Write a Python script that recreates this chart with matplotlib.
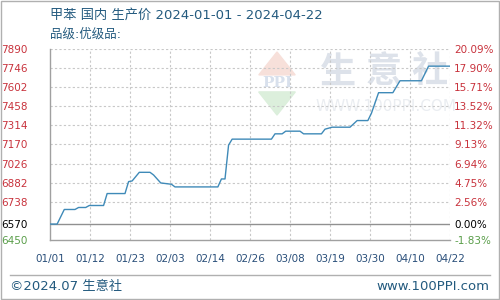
import matplotlib
matplotlib.use("Agg")
import matplotlib.pyplot as plt
import numpy as np
import pandas as pd

# price readings (date, yuan/ton)
dates = ['2024-01-01', '2024-01-03', '2024-01-05', '2024-01-08', '2024-01-09', '2024-01-11',
         '2024-01-12', '2024-01-16', '2024-01-17', '2024-01-22', '2024-01-23', '2024-01-24',
         '2024-01-26', '2024-01-29', '2024-01-30', '2024-02-01', '2024-02-04', '2024-02-05',
         '2024-02-17', '2024-02-18', '2024-02-19', '2024-02-20', '2024-02-21', '2024-03-03',
         '2024-03-04', '2024-03-06', '2024-03-07', '2024-03-11', '2024-03-12', '2024-03-17',
         '2024-03-18', '2024-03-20', '2024-03-25', '2024-03-27', '2024-03-30', '2024-03-31',
         '2024-04-02', '2024-04-06', '2024-04-08', '2024-04-14', '2024-04-16', '2024-04-22']
prices = [6570, 6570, 6680, 6680, 6695, 6695,
          6710, 6710, 6800, 6800, 6890, 6895,
          6960, 6960, 6940, 6880, 6870, 6850,
          6850, 6910, 6910, 7165, 7210, 7210,
          7250, 7250, 7270, 7270, 7250, 7250,
          7285, 7300, 7300, 7350, 7350, 7405,
          7560, 7560, 7650, 7650, 7760, 7760]

base = 6570
y_ticks = [6450, 6570, 6738, 6882, 7026, 7170, 7314, 7458, 7602, 7746, 7890]
pct_labels = ['-1.83%', '0.00%', '2.56%', '4.75%', '6.94%', '9.13%', '11.32%',
              '13.52%', '15.71%', '17.90%', '20.09%']
x_labels = ['01/01', '01/12', '01/23', '02/03', '02/14', '02/26', '03/08',
            '03/19', '03/30', '04/10', '04/22']

start = pd.Timestamp('2024-01-01')
end = pd.Timestamp('2024-04-22')
days = [(pd.Timestamp(d) - start).days for d in dates]
span = (end - start).days

fig = plt.figure(figsize=(5, 3), dpi=100)
ax = fig.add_axes([0.1, 0.2, 0.8, 0.637])

ax.set_xlim(0, span)
ax.set_ylim(6450, 7890)

grid_clr = '#c8c8c8'
xt = np.linspace(0, span, 11)
for x in xt[1:]:
    ax.axvline(x, color=grid_clr, lw=0.8, ls=(0, (2, 2)), zorder=1)
for y in y_ticks[2:]:
    ax.axhline(y, color=grid_clr, lw=0.8, ls=(0, (2, 2)), zorder=1)
ax.axhline(base, color='#909090', lw=1, zorder=2)

# watermark: logo + name
cx = 0.5675
ax.fill([cx, cx - 0.0455, cx + 0.0455], [0.984, 0.864, 0.864], transform=ax.transAxes,
        color='#f7e0da', zorder=0)
ax.fill([cx - 0.0458, cx + 0.0458, cx], [0.775, 0.775, 0.654], transform=ax.transAxes,
        color='#dcefdc', zorder=0)
ax.text(cx, 0.82, 'PPI', transform=ax.transAxes, fontsize=11, color='#d8e0ec',
        ha='center', va='center', family='DejaVu Serif', fontweight='bold', zorder=0)
for ch, fx in zip('生意社', [0.72, 0.835, 0.95]):
    ax.text(fx, 0.88, ch, transform=ax.transAxes, fontsize=26, color='#dde2ea',
            ha='center', va='center', family=['Noto Sans CJK SC'], fontweight='bold', zorder=0)
ax.text(0.84, 0.70, 'WWW.100PPI.COM', transform=ax.transAxes, fontsize=11, color='#eaedf1',
        ha='center', va='center', zorder=0)

ax.plot(days, prices, color='#3f8ab8', lw=1.0, zorder=3)

for s in ['top', 'right']:
    ax.spines[s].set_visible(False)
for s in ['left', 'bottom']:
    ax.spines[s].set_color('#a0a0a0')
    ax.spines[s].set_linewidth(1)

ax.set_xticks(xt)
ax.set_xticklabels(x_labels)
ax.tick_params(axis='x', length=0, pad=10, labelsize=7.5, labelcolor='#2a4f7a')
ax.set_yticks(y_ticks)
ax.set_yticklabels([str(v) for v in y_ticks])
ax.tick_params(axis='y', length=0, pad=16, labelsize=7.5)
for lbl, v in zip(ax.get_yticklabels(), y_ticks):
    lbl.set_color('#5a9e4a' if v < base else ('black' if v == base else '#c8323c'))

ax2 = ax.twinx()
ax2.set_ylim(6450, 7890)
ax2.set_yticks(y_ticks)
ax2.set_yticklabels(pct_labels)
ax2.tick_params(axis='y', length=0, pad=3, labelsize=7.5)
for lbl, v in zip(ax2.get_yticklabels(), y_ticks):
    lbl.set_color('#5a9e4a' if v < base else ('black' if v == base else '#c8323c'))
for s in ax2.spines.values():
    s.set_visible(False)

mixed = ['DejaVu Sans', 'Noto Sans CJK SC']
fig.text(0.1, 0.95, '甲苯 国内 生产价 2024-01-01 - 2024-04-22', fontsize=9.5,
         color='#235a7e', family=mixed, va='center')
fig.text(0.1, 0.887, '品级:优级品:', fontsize=9, color='#235a7e', family=mixed, va='center')

fig.add_artist(plt.Line2D([0.02, 0.98], [0.083, 0.083], color='#b0b0b0', lw=1,
                          transform=fig.transFigure))
fig.text(0.02, 0.045, '©2024.07 生意社', fontsize=9.5, color='#235a7e', family=mixed, va='center')
fig.text(0.978, 0.045, 'www.100PPI.com', fontsize=9.5, color='#235a7e', ha='right', va='center')
fig.add_artist(plt.Rectangle((0.001, 0.002), 0.997, 0.995, fill=False, ec='#b0b0b0', lw=1,
                             transform=fig.transFigure))

fig.savefig('out.png', dpi=100)
